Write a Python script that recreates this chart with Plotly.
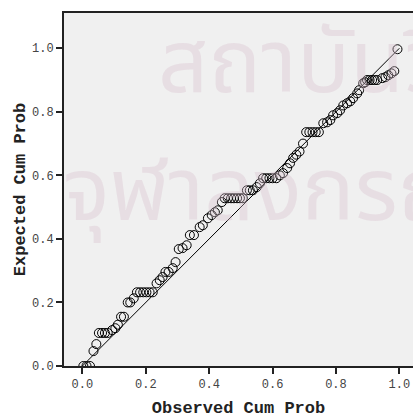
import plotly.graph_objects as go

observed = [0.003, 0.013, 0.024, 0.035, 0.044, 0.052, 0.062, 0.071, 0.080, 0.094,
            0.104, 0.112, 0.122, 0.131, 0.143, 0.151, 0.162, 0.172, 0.182, 0.192,
            0.202, 0.212, 0.222, 0.234, 0.244, 0.253, 0.262, 0.272, 0.285, 0.294,
            0.304, 0.316, 0.329, 0.339, 0.352, 0.370, 0.380, 0.396, 0.408, 0.418,
            0.427, 0.440, 0.449, 0.459, 0.469, 0.478, 0.488, 0.497, 0.506, 0.519,
            0.528, 0.538, 0.550, 0.560, 0.570, 0.580, 0.590, 0.600, 0.612, 0.623,
            0.633, 0.646, 0.655, 0.665, 0.675, 0.685, 0.696, 0.706, 0.716, 0.726,
            0.736, 0.746, 0.760, 0.772, 0.782, 0.791, 0.804, 0.813, 0.823, 0.835,
            0.845, 0.854, 0.867, 0.873, 0.886, 0.892, 0.898, 0.906, 0.914, 0.922,
            0.930, 0.946, 0.956, 0.965, 0.975, 0.984, 0.994]
expected = [0.000, 0.000, 0.000, 0.047, 0.069, 0.104, 0.104, 0.104, 0.104, 0.113,
            0.119, 0.130, 0.155, 0.155, 0.200, 0.200, 0.213, 0.232, 0.232, 0.232,
            0.232, 0.232, 0.232, 0.260, 0.270, 0.280, 0.296, 0.296, 0.308, 0.327,
            0.368, 0.371, 0.380, 0.412, 0.412, 0.437, 0.443, 0.465, 0.475, 0.484,
            0.490, 0.516, 0.528, 0.528, 0.528, 0.528, 0.528, 0.528, 0.528, 0.553,
            0.553, 0.553, 0.563, 0.575, 0.591, 0.591, 0.591, 0.591, 0.591, 0.600,
            0.607, 0.623, 0.638, 0.655, 0.665, 0.675, 0.700, 0.736, 0.736, 0.736,
            0.736, 0.736, 0.764, 0.767, 0.774, 0.789, 0.796, 0.805, 0.820, 0.827,
            0.833, 0.843, 0.858, 0.868, 0.890, 0.893, 0.900, 0.900, 0.900, 0.900,
            0.900, 0.906, 0.909, 0.915, 0.921, 0.928, 0.997]
ref_line = [0.0, 1.0]
tick_vals = [0.0, 0.2, 0.4, 0.6, 0.8, 1.0]
tick_text = ["0.0", "0.2", "0.4", "0.6", "0.8", "1.0"]
watermark = ["สถาบันวิทยบริการ", "จุฬาลงกรณ์มหาวิทยาลัย"]

fig = go.Figure()
fig.add_trace(go.Scatter(x=ref_line, y=ref_line, mode="lines",
                         line=dict(color="black", width=1), hoverinfo="skip"))
fig.add_trace(go.Scatter(x=observed, y=expected, mode="markers",
                         marker=dict(symbol="circle-open", size=9,
                                     color="black", line=dict(width=1))))

wm_font = dict(family="Noto Sans Thai, Noto Sans, sans-serif", size=88,
               color="rgba(215,192,205,0.36)")
fig.add_annotation(text=watermark[0], xref="paper", yref="paper", x=0.265, y=0.85,
                   xanchor="left", yanchor="middle", showarrow=False, font=wm_font)
fig.add_annotation(text=watermark[1], xref="paper", yref="paper", x=-0.01, y=0.49,
                   xanchor="left", yanchor="middle", showarrow=False, font=wm_font)

mono = "Liberation Mono, Courier New, monospace"
axis_common = dict(showgrid=False, zeroline=False, showline=True, automargin=False,
                   linecolor="#222", linewidth=2, ticks="outside", ticklen=6,
                   tickwidth=2, tickcolor="#222",
                   tickfont=dict(family=mono, size=12, color="#444"),
                   tickvals=tick_vals, ticktext=tick_text)

fig.update_layout(
    width=413, height=418,
    margin=dict(l=64, r=0, t=13, b=52),
    paper_bgcolor="white", plot_bgcolor="#f0f0f0",
    showlegend=False,
    xaxis=dict(range=[-0.058, 1.043], mirror=True,
               title=dict(text="<b>Observed Cum Prob</b>", standoff=10,
                          font=dict(family=mono, size=17, color="#222")),
               **axis_common),
    yaxis=dict(range=[0, 1.111],
               title=dict(text="<b>Expected Cum Prob</b>", standoff=2,
                          font=dict(family=mono, size=17, color="#222")),
               **axis_common),
)

fig.write_html("out.html", config={"displayModeBar": False},
               post_script="document.body.style.margin='0';document.body.style.overflow='hidden';")
